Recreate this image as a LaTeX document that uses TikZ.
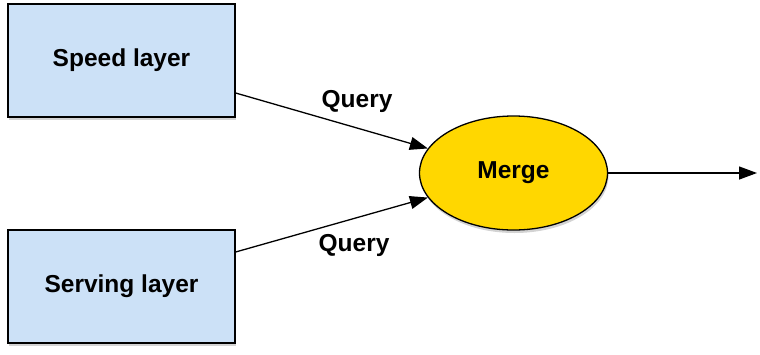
\documentclass[tikz,border=0pt]{standalone}
\usepackage{fontspec}
\setmainfont{Liberation Sans}
\usetikzlibrary{shapes.geometric,shadows,arrows.meta}
\definecolor{boxblue}{RGB}{204,225,247}
\definecolor{mergeyellow}{RGB}{255,215,0}
\begin{document}
\begin{tikzpicture}[x=1pt,y=-1pt,
  layerbox/.style={draw=black, line width=1.3pt, fill=boxblue, minimum width=227pt, minimum height=113pt, inner sep=0pt,
    drop shadow={opacity=0.35, shadow xshift=1pt, shadow yshift=-3pt}, font=\bfseries\fontsize{24.5}{28}\selectfont},
  mergenode/.style={ellipse, draw=black, line width=1.3pt, fill=mergeyellow, minimum width=188pt, minimum height=114pt, inner sep=0pt,
    drop shadow={opacity=0.35, shadow xshift=1pt, shadow yshift=-3pt}, font=\bfseries\fontsize{24.5}{28}\selectfont},
  conn/.style={line width=1.3pt, -{Triangle[length=18pt,width=13pt]}},
  lbl/.style={font=\bfseries\fontsize{24.5}{28}\selectfont}
]
\useasboundingbox (0,0) rectangle (760,354);
\node[layerbox] (speed) at (121.5,60.5) {Speed layer};
\node[layerbox] (serving) at (121.5,286.5) {Serving layer};
\node[mergenode] (merge) at (513.5,173) {Merge};
\coordinate (out) at (757,173);
\draw[conn] (speed.east |- 0,93) -- (merge.164);
\draw[conn] (serving.east |- 0,252) -- (merge.196);
\draw[conn] (merge.east) -- (out);
\node[lbl] (q1) at (357,101) {Query};
\node[lbl] (q2) at (354,245) {Query};
\end{tikzpicture}
\end{document}
